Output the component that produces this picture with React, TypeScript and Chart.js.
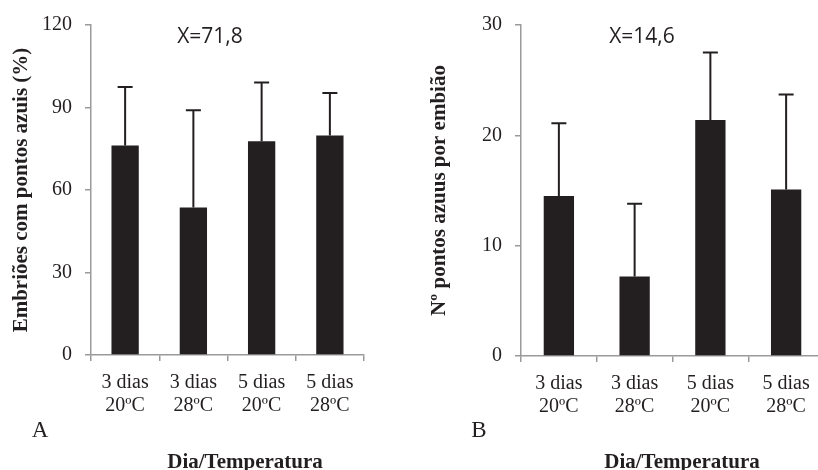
import React, { useEffect, useRef } from "react";
import { Chart, registerables } from "chart.js";

Chart.register(...registerables);

// ---- data ----
const categories = [
  ["3 dias", "20ºC"],
  ["3 dias", "28ºC"],
  ["5 dias", "20ºC"],
  ["5 dias", "28ºC"],
];
const valuesA = [76.2, 53.6, 77.7, 79.8];
const errorsA = [21.3, 35.4, 21.4, 15.5];
const valuesB = [14.5, 7.2, 21.4, 15.1];
const errorsB = [6.6, 6.6, 6.1, 8.6];
const yMaxA = 120;
const yStepA = 30;
const yMaxB = 30;
const yStepB = 10;
const yTitleA = "Embriões com pontos azuis (%)";
const yTitleB = "Nº pontos azuus por embião";
const meanA = "X=71,8";
const meanB = "X=14,6";
const letterA = "A";
const letterB = "B";
const xTitle = "Dia/Temperatura";

const INK = "#231f20";
const AXIS = "#9a9a9a";
const SERIF = "'Liberation Serif', 'Times New Roman', serif";

type PanelProps = {
  values: number[];
  errors: number[];
  yMax: number;
  yStep: number;
  yTitle: string;
  mean: string;
  letter: string;
  left: number;
  width: number;
  yAxisWidth: number;
  padRight: number;
  xAxisHeight: number;
  yTitlePad: number;
  meanX: number;
  letterX: number;
  xTitleX: number;
};

function Panel(p: PanelProps) {
  const ref = useRef<HTMLCanvasElement | null>(null);
  useEffect(() => {
    if (!ref.current) return;
    const extras = {
      id: "extras",
      afterDatasetsDraw(chart: any) {
        const ctx = chart.ctx;
        const meta = chart.getDatasetMeta(0);
        const yScale = chart.scales.y;
        ctx.save();
        ctx.strokeStyle = INK;
        ctx.lineWidth = 2;
        meta.data.forEach((bar: any, i: number) => {
          const top = yScale.getPixelForValue(p.values[i] + p.errors[i]);
          const base = yScale.getPixelForValue(p.values[i]);
          ctx.beginPath();
          ctx.moveTo(bar.x, base);
          ctx.lineTo(bar.x, top);
          ctx.moveTo(bar.x - 7.5, top);
          ctx.lineTo(bar.x + 7.5, top);
          ctx.stroke();
        });
        ctx.restore();
      },
      afterDraw(chart: any) {
        const ctx = chart.ctx;
        ctx.save();
        ctx.fillStyle = INK;
        ctx.textAlign = "center";
        ctx.textBaseline = "alphabetic";
        ctx.font = "21px 'Open Sans', sans-serif";
        ctx.fillText(p.mean, p.meanX, 43);
        ctx.font = "23px " + SERIF;
        ctx.fillText(p.letter, p.letterX, 437);
        ctx.font = "bold 21px " + SERIF;
        ctx.fillText(xTitle, p.xTitleX, 468);
        ctx.restore();
      },
    };
    const chart = new Chart(ref.current, {
      type: "bar",
      data: {
        labels: categories,
        datasets: [
          {
            data: p.values,
            backgroundColor: INK,
            borderWidth: 0,
            barPercentage: 0.4,
            categoryPercentage: 1,
          },
        ],
      },
      options: {
        animation: false,
        responsive: false,
        maintainAspectRatio: false,
        layout: { padding: { top: 23, right: p.padRight, left: 0, bottom: 0 } },
        plugins: { legend: { display: false }, tooltip: { enabled: false } },
        scales: {
          x: {
            afterFit: (s: any) => {
              s.height = p.xAxisHeight;
            },
            border: { display: true, color: AXIS, width: 1.5 },
            grid: {
              drawOnChartArea: false,
              drawTicks: true,
              tickLength: 6,
              color: AXIS,
              lineWidth: 1.5,
            },
            ticks: {
              color: INK,
              padding: 10.5,
              font: { family: SERIF, size: 20, lineHeight: 1.15 },
              maxRotation: 0,
              autoSkip: false,
            },
          },
          y: {
            min: 0,
            max: p.yMax,
            afterFit: (s: any) => {
              s.width = p.yAxisWidth;
            },
            border: { display: true, color: AXIS, width: 1.5 },
            grid: {
              drawOnChartArea: false,
              drawTicks: true,
              tickLength: 6,
              color: AXIS,
              lineWidth: 1.5,
            },
            ticks: {
              stepSize: p.yStep,
              color: INK,
              padding: 13,
              font: { family: SERIF, size: 20 },
            },
            title: {
              display: true,
              text: p.yTitle,
              color: INK,
              font: { family: SERIF, size: 21, weight: "bold", lineHeight: 1.2 },
              padding: { top: p.yTitlePad, bottom: 0 },
            },
          },
        },
      },
      plugins: [extras],
    } as any);
    return () => chart.destroy();
  }, []);
  return (
    <canvas
      ref={ref}
      width={p.width}
      height={470}
      style={{ position: "absolute", left: p.left, top: 0, width: p.width, height: 470 }}
    />
  );
}

export default function App() {
  return (
    <div
      style={{
        position: "fixed",
        left: 0,
        top: 0,
        width: 818,
        height: 470,
        overflow: "hidden",
        background: "#fff",
      }}
    >
      <Panel
        values={valuesA}
        errors={errorsA}
        yMax={yMaxA}
        yStep={yStepA}
        yTitle={yTitleA}
        mean={meanA}
        letter={letterA}
        left={0}
        width={409}
        yAxisWidth={91}
        padRight={45}
        xAxisHeight={115}
        yTitlePad={9}
        meanX={210}
        letterX={40}
        xTitleX={245}
      />
      <Panel
        values={valuesB}
        errors={errorsB}
        yMax={yMaxB}
        yStep={yStepB}
        yTitle={yTitleB}
        mean={meanB}
        letter={letterB}
        left={409}
        width={430}
        yAxisWidth={112}
        padRight={15}
        xAxisHeight={114}
        yTitlePad={18}
        meanX={233}
        letterX={70}
        xTitleX={273}
      />
    </div>
  );
}
